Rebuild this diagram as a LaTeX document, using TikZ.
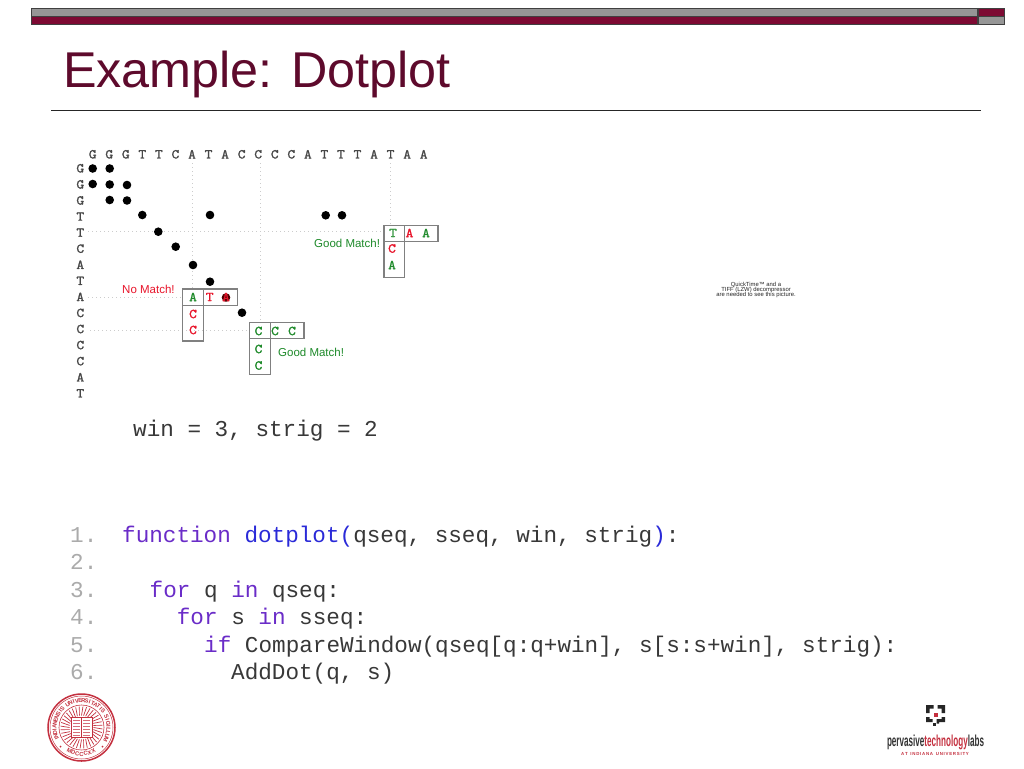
\documentclass[tikz,border=0pt]{standalone}
\usepackage{fontspec}
\setmainfont{Liberation Sans}
\setmonofont{Liberation Mono}
\newfontfamily\gridfont[FakeBold=1.6,FakeStretch=1.12]{Latin Modern Mono}
\definecolor{maroon}{HTML}{7D0A33}
\definecolor{titlered}{HTML}{5E0A2C}
\definecolor{bargrey}{HTML}{969696}
\definecolor{okgreen}{HTML}{1E8A2A}
\definecolor{badred}{HTML}{E8152B}
\definecolor{kwpurple}{HTML}{6A2CC8}
\definecolor{kwblue}{HTML}{2A2AD8}
\definecolor{numgrey}{HTML}{ABABAB}
\definecolor{sealred}{HTML}{C4303F}
\newcommand{\fs}[1]{\fontsize{#1}{#1}\selectfont}
\tikzset{
 barpart/.style={draw=black!75,line width=1pt},
 seq/.style={font=\gridfont\fs{13.5},text=black!72,inner sep=0pt,anchor=center},
 hit/.style={circle,fill=black,inner sep=0pt,minimum size=8.6pt},
 winbox/.style={draw=black!50,line width=1.2pt},
 guide/.style={draw=black!20,line width=.9pt,dash pattern=on 1pt off 3pt},
 code/.style={font=\ttfamily\fs{22.65},anchor=base west,inner sep=0pt,text=black!78},
 lineno/.style={font=\ttfamily\fs{22.65},anchor=base west,inner sep=0pt,text=numgrey},
 note/.style={font=\fs{11.5},inner sep=0pt},
 sealch/.style={font=\bfseries\fs{5.8},text=sealred,inner sep=0pt},
 logoblk/.style={fill=black!85,draw=none},
}
\newcommand{\kw}[1]{\textcolor{kwpurple}{#1}}
\newcommand{\nm}[1]{\textcolor{kwblue}{#1}}
\begin{document}
\begin{tikzpicture}[x=1pt,y=-1pt]
\useasboundingbox (0,0) rectangle (1024,768);
\fill[white] (0,0) rectangle (1024,768);
% header
\draw[barpart,fill=bargrey] (31,9) rectangle (977,17);
\draw[barpart,fill=maroon] (31,17) rectangle (977,25);
\draw[barpart,fill=maroon] (978,8.5) rectangle (1004,17);
\draw[barpart,fill=bargrey] (978,17) rectangle (1004,25);
\node[anchor=base west,inner sep=0pt,text=titlered,font=\fs{50.3}] (title) at (63,87.5) {Example: Dotplot};
\draw[black!85,line width=1.1pt] (51,110.5) -- (981,110.5);
% guides
\draw[guide] (192.5,163) -- (192.5,289);
\draw[guide] (260,163) -- (260,322);
\draw[guide] (390.7,163) -- (390.7,225);
\draw[guide] (88,231) -- (384,231);
\draw[guide] (88,297) -- (182,297);
\draw[guide] (90,330.7) -- (249,330.7);
% sequences
\foreach \c [count=\i from 0] in {G,G,G,T,T,C,A,T,A,C,C,C,C,A,T,T,T,A,T,A,A}
  \node[seq] (top\i) at ({92.7+16.55*\i},154.3) {\c};
\foreach \c [count=\i from 0] in {G,G,G,T,T,C,A,T,A,C,C,C,C,A,T}
  \node[seq] (left\i) at (80.3,{168.3+16.07*\i}) {\c};
% dots
\foreach \p in {(92.7,168.5),(109.7,168.5),(92.7,184),(109.7,184.5),(127,185),
  (109.7,200),(127,200.5),(142.3,215),(210,215),(325.7,215.3),(342,215.3),
  (158.3,231.7),(175.7,246.7),(193,265),(210,281.7),(242,312.7)}
  \node[hit] at \p {};
\node[hit,fill=black!70!red] (reddot) at (226,297.5) {};
% boxes
\draw[winbox] (182.5,289) rectangle (237.5,305.5);
\draw[winbox] (182.5,289) rectangle (203.5,341);
\draw[winbox] (249.5,322.5) rectangle (304,338.5);
\draw[winbox] (249.5,322.5) rectangle (270.5,374.5);
\draw[winbox] (384,225.5) rectangle (438,241.5);
\draw[winbox] (384,225.5) rectangle (404.5,277.5);
% box letters
\node[seq,text=okgreen] at (193,297) {A};
\node[seq,text=badred] at (209.7,297) {T};
\node[seq,text=badred] (ra) at (226,297) {A};
\node[seq,text=badred] at (193,314) {C};
\node[seq,text=badred] at (193,330) {C};
\node[seq,text=okgreen] at (258.5,331) {C};
\node[seq,text=okgreen] at (275,331) {C};
\node[seq,text=okgreen] at (292,331) {C};
\node[seq,text=okgreen] at (258.5,349) {C};
\node[seq,text=okgreen] at (258.5,365.5) {C};
\node[seq,text=okgreen] at (393,233) {T};
\node[seq,text=badred] at (409.5,233) {A};
\node[seq,text=okgreen] at (426,233) {A};
\node[seq,text=badred] at (392,248.5) {C};
\node[seq,text=okgreen] at (392,265) {A};
% notes
\node[note,text=badred,anchor=base west] (nomatch) at (122,293) {No Match!};
\node[note,text=okgreen,anchor=base west] (good1) at (314,247) {Good Match!};
\node[note,text=okgreen,anchor=base west] (good2) at (278,356) {Good Match!};
% quicktime placeholder
\node[align=center,font=\fs{5.9},inner sep=0pt,text=black!85] (qt) at (756,290) {QuickTime™ and a\\[-.5pt]TIFF (LZW) decompressor\\[-.5pt]are needed to see this picture.};
% code
\node[code] (param) at (133,436) {win = 3, strig = 2};
\foreach \n/\yy in {1/542,2/569,3/597,4/624,5/652,6/679}
  \node[lineno] (n\n) at (70,\yy) {\n.};
\node[code] (c1) at (122,542) {\kw{function} \nm{dotplot(}qseq, sseq, win, strig\nm{)}:};
\node[code] (c3) at (149.5,597) {\kw{for} q \kw{in} qseq:};
\node[code] (c4) at (176.7,624) {\kw{for} s \kw{in} sseq:};
\node[code] (c5) at (204,652) {\kw{if} CompareWindow(qseq[q:q+win], s[s:s+win], strig):};
\node[code] (c6) at (231,679) {AddDot(q, s)};
% seal
\begin{scope}[shift={(81.5,727.5)}]
\draw[sealred,line width=1.5pt] (0,0) circle (33.5);
\draw[sealred,line width=.5pt] (0,0) circle (31.5);
\draw[sealred,line width=.6pt] (0,0) circle (22.5);
\foreach \a in {0,10,...,350}
  \draw[sealred,line width=.7pt] (\a:12) -- (\a+4:21);
\draw[sealred,line width=.9pt,fill=white] (-10.5,-10) rectangle (10.5,10);
\draw[sealred,line width=.8pt] (0,-10) -- (0,10);
\foreach \yy in {-7,-4,-1,2,5,8}{
  \draw[sealred!70,line width=.6pt] (-8.5,\yy) -- (-1.5,\yy);
  \draw[sealred!70,line width=.6pt] (1.5,\yy) -- (8.5,\yy);}
\foreach \c [count=\i from 0] in {I,N,D,I,A,N,E,N,S,I,S,{ },U,N,I,V,E,R,S,I,T,A,T,I,S,{ },S,I,G,I,L,L,U,M}
  \node[sealch,rotate={(205-7*\i)-90}] at ({27*cos(205-7*\i)},{-27*sin(205-7*\i)}) {\c};
\foreach \c [count=\i from 0] in {M,D,C,C,C,X,X}
  \node[sealch,rotate={(243+9*\i)+90}] at ({26.5*cos(243+9*\i)},{-26.5*sin(243+9*\i)}) {\c};
\fill[sealred] (-21,19) circle (1) (21,19) circle (1);
\end{scope}
% logo
\begin{scope}[shift={(935.5,715)}]
\fill[logoblk] (-9.5,-10) rectangle (-2,-6.5) (-9.5,-10) rectangle (-6,-2);
\fill[logoblk] (2,-10) rectangle (9.5,-6.5) (6,-10) rectangle (9.5,-2);
\fill[logoblk] (-9.5,2) rectangle (-6,7) (-9.5,4) rectangle (-3,7);
\fill[logoblk] (6,2) rectangle (9.5,5.5) (1,4) rectangle (9.5,7) (1,4) rectangle (3.5,8.5);
\fill[logoblk] (-3,8) rectangle (0,11);
\fill[sealred] (-2,-2) rectangle (2,2);
\end{scope}
\node[anchor=base,inner sep=0pt,font=\bfseries\fs{12}] (ptl) at (935.5,746)
  {\resizebox{97pt}{11.5pt}{\textcolor{black!80}{pervasive}\textcolor{sealred}{technology}\textcolor{black!80}{labs}}};
\node[anchor=base,inner sep=0pt,font=\bfseries\fs{4.4},text=sealred] (iu) at (935,755) {A\,T\, \,I\,N\,D\,I\,A\,N\,A\, \,U\,N\,I\,V\,E\,R\,S\,I\,T\,Y};
\end{tikzpicture}
\end{document}
